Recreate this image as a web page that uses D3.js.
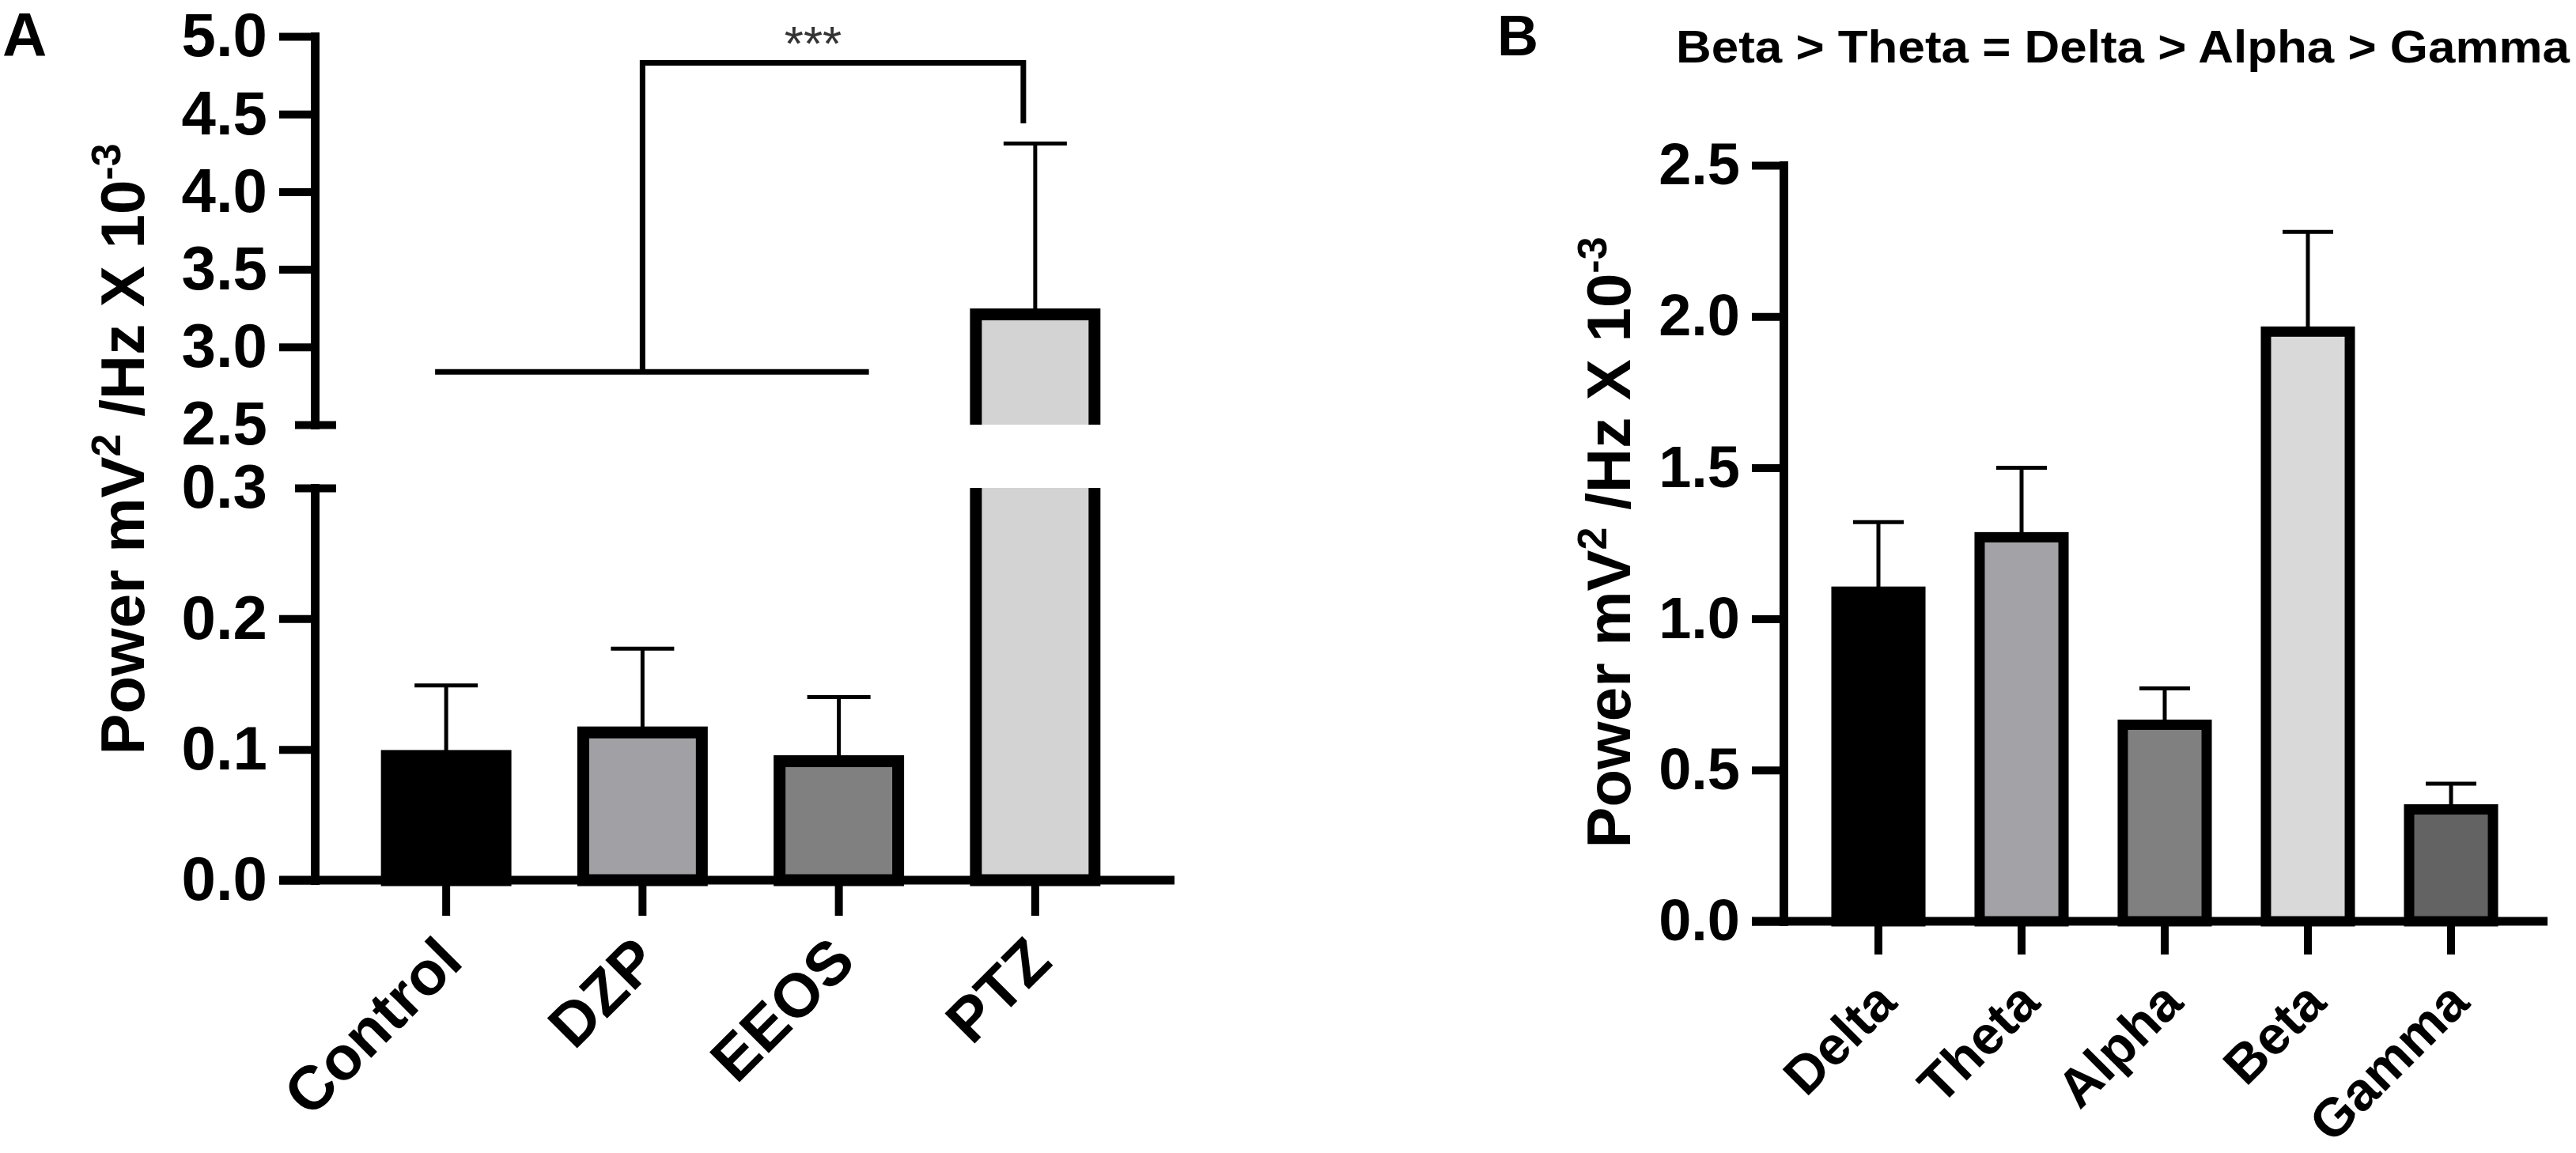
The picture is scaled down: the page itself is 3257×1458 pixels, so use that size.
<!DOCTYPE html>
<html>
<head>
<meta charset="utf-8">
<script src="https://cdn.jsdelivr.net/npm/d3@7"></script>
<style>
  body { margin: 0; background: #fff; }
  svg text { font-family: "Liberation Sans", Arial, sans-serif; font-weight: bold; fill: #000; }
</style>
</head>
<body>
<svg id="fig" width="3257" height="1458"></svg>
<script>
// panel A data
const groupsA = ['Control', 'DZP', 'EEOS', 'PTZ'];
const meanA = [0.095, 0.113, 0.091, 3.21];
const semA = [0.054, 0.064, 0.049, 1.10];
const coloursA = ['#000000', '#a1a1a5', '#808080', '#d3d3d3'];
const ticksHi = [2.5, 3.0, 3.5, 4.0, 4.5, 5.0];
const ticksLo = [0, 0.1, 0.2, 0.3];

// panel B data
const bandsB = ['Delta', 'Theta', 'Alpha', 'Beta', 'Gamma'];
const meanB = [1.09, 1.27, 0.65, 1.95, 0.37];
const semB = [0.23, 0.23, 0.12, 0.33, 0.085];
const coloursB = ['#000000', '#a3a3a7', '#808080', '#d9d9d9', '#636363'];
const ticksB = [0, 0.5, 1.0, 1.5, 2.0, 2.5];
const titleB = 'Beta > Theta = Delta > Alpha > Gamma';

const svg = d3.select('#fig');
const fmt = d3.format('.1f');

function styleAxis(g, size) {
  g.attr('font-size', size)
    .attr('font-family', null);
  g.select('.domain')
    .attr('stroke-width', 11)
    .attr('stroke-linecap', 'square');
  g.selectAll('.tick line').attr('stroke-width', 10);
}

function yLabel(x, y) {
  const t = svg.append('text')
    .attr('transform', `translate(${x},${y}) rotate(-90)`)
    .attr('text-anchor', 'middle')
    .attr('font-size', 78);
  t.append('tspan').text('Power mV');
  t.append('tspan').attr('dy', -30).attr('font-size', 52).text('2');
  t.append('tspan').attr('dy', 30).text(' /Hz X 10');
  t.append('tspan').attr('dy', -30).attr('font-size', 52).text('-3');
}

// ---------------- panel A ----------------
const xA = d3.scaleBand()
  .domain(groupsA)
  .range([440, 1433])
  .paddingInner(0.396)
  .paddingOuter(0.198);
const yHi = d3.scaleLinear().domain([2.5, 5]).range([537, 46]);
const yLo = d3.scaleLinear().domain([0, 0.3]).range([1113, 617]);
const yA = v => (v > 0.3 ? yHi(v) : yLo(v));
const dataA = groupsA.map((g, i) => ({ g, v: meanA[i], e: semA[i], c: coloursA[i] }));

const defs = svg.append('defs');
defs.append('clipPath').attr('id', 'clipHi')
  .append('rect').attr('x', 0).attr('y', 0).attr('width', 3257).attr('height', yHi(2.5));
defs.append('clipPath').attr('id', 'clipLo')
  .append('rect').attr('x', 0).attr('y', yLo(0.3)).attr('width', 3257).attr('height', 1458 - yLo(0.3));

// error bars (upper side only)
const errA = svg.append('g').attr('stroke', '#000').attr('stroke-width', 5);
dataA.forEach(d => {
  const cx = xA(d.g) + xA.bandwidth() / 2;
  errA.append('line').attr('x1', cx).attr('x2', cx).attr('y1', yA(d.v)).attr('y2', yA(d.v + d.e));
  errA.append('line').attr('x1', cx - 40).attr('x2', cx + 40).attr('y1', yA(d.v + d.e)).attr('y2', yA(d.v + d.e));
});

// bars, split over the broken axis
const barsLo = svg.append('g').attr('clip-path', 'url(#clipLo)');
barsLo.selectAll('rect')
  .data(dataA)
  .enter().append('rect')
  .attr('x', d => xA(d.g))
  .attr('width', xA.bandwidth())
  .attr('y', d => (d.v > 0.3 ? yLo(0.3) - 40 : yLo(d.v)))
  .attr('height', d => yLo(0) - (d.v > 0.3 ? yLo(0.3) - 40 : yLo(d.v)))
  .attr('fill', d => d.c)
  .attr('stroke', '#000')
  .attr('stroke-width', 15);

const barsHi = svg.append('g').attr('clip-path', 'url(#clipHi)');
barsHi.selectAll('rect')
  .data(dataA.filter(d => d.v > 2.5))
  .enter().append('rect')
  .attr('x', d => xA(d.g))
  .attr('width', xA.bandwidth())
  .attr('y', d => yHi(d.v))
  .attr('height', d => yHi(2.5) + 40 - yHi(d.v))
  .attr('fill', d => d.c)
  .attr('stroke', '#000')
  .attr('stroke-width', 15);

// y axes (two segments)
const gHi = svg.append('g').attr('transform', 'translate(398,0)')
  .call(d3.axisLeft(yHi).tickValues(ticksHi).tickSize(45).tickSizeOuter(0).tickPadding(15).tickFormat(fmt));
const gLo = svg.append('g').attr('transform', 'translate(398,0)')
  .call(d3.axisLeft(yLo).tickValues(ticksLo).tickSize(45).tickSizeOuter(0).tickPadding(15).tickFormat(fmt));
styleAxis(gHi, 78);
styleAxis(gLo, 78);
// break marks replace the ticks at 2.5 and 0.3
gHi.selectAll('.tick').filter(d => d === 2.5).select('line').attr('x1', -25).attr('x2', 27);
gLo.selectAll('.tick').filter(d => d === 0.3).select('line').attr('x1', -25).attr('x2', 27);

// x axis
svg.append('line')
  .attr('x1', 353).attr('x2', 1485)
  .attr('y1', yLo(0)).attr('y2', yLo(0))
  .attr('stroke', '#000').attr('stroke-width', 11);
const gxA = svg.append('g').attr('transform', `translate(0,${yLo(0)})`)
  .call(d3.axisBottom(xA).tickSize(45).tickSizeOuter(0));
gxA.select('.domain').remove();
styleAxis(gxA, 78);
gxA.selectAll('.tick text')
  .attr('x', 0).attr('y', 0).attr('dy', 0)
  .attr('text-anchor', 'end')
  .attr('transform', 'translate(24,106) rotate(-45)');

// significance bracket
const bracket = { low: 2.84, high: 4.83, drop: 4.44 };
const cxA = g => xA(g) + xA.bandwidth() / 2;
svg.append('path')
  .attr('fill', 'none').attr('stroke', '#000').attr('stroke-width', 7)
  .attr('d', `M${cxA('Control') - 14},${yHi(bracket.low)} H${cxA('EEOS') + 38}`);
svg.append('path')
  .attr('fill', 'none').attr('stroke', '#000').attr('stroke-width', 7)
  .attr('d', `M${cxA('DZP')},${yHi(bracket.low)} V${yHi(bracket.high)} H${cxA('PTZ') - 15} V${yHi(bracket.drop)}`);
svg.append('text')
  .attr('x', 1028).attr('y', 76)
  .attr('text-anchor', 'middle')
  .attr('font-size', 62)
  .style('font-weight', 'normal')
  .style('fill', '#333')
  .text('***');

yLabel(182, 568);

svg.append('text').attr('x', 3).attr('y', 71).attr('font-size', 78).text('A');

// ---------------- panel B ----------------
const xB = d3.scaleBand()
  .domain(bandsB)
  .range([2284.5, 3189.5])
  .paddingInner(0.414)
  .paddingOuter(0.207);
const yB = d3.scaleLinear().domain([0, 2.5]).range([1165, 209]);
const dataB = bandsB.map((b, i) => ({ b, v: meanB[i], e: semB[i], c: coloursB[i] }));

const errB = svg.append('g').attr('stroke', '#000').attr('stroke-width', 5);
dataB.forEach(d => {
  const cx = xB(d.b) + xB.bandwidth() / 2;
  errB.append('line').attr('x1', cx).attr('x2', cx).attr('y1', yB(d.v)).attr('y2', yB(d.v + d.e));
  errB.append('line').attr('x1', cx - 32).attr('x2', cx + 32).attr('y1', yB(d.v + d.e)).attr('y2', yB(d.v + d.e));
});

svg.append('g').selectAll('rect')
  .data(dataB)
  .enter().append('rect')
  .attr('x', d => xB(d.b))
  .attr('width', xB.bandwidth())
  .attr('y', d => yB(d.v))
  .attr('height', d => yB(0) - yB(d.v))
  .attr('fill', d => d.c)
  .attr('stroke', '#000')
  .attr('stroke-width', 13);

const gyB = svg.append('g').attr('transform', 'translate(2255,0)')
  .call(d3.axisLeft(yB).tickValues(ticksB).tickSize(40).tickSizeOuter(0).tickPadding(15).tickFormat(fmt));
styleAxis(gyB, 74);

svg.append('line')
  .attr('x1', 2215).attr('x2', 3221)
  .attr('y1', yB(0)).attr('y2', yB(0))
  .attr('stroke', '#000').attr('stroke-width', 11);
const gxB = svg.append('g').attr('transform', `translate(0,${yB(0)})`)
  .call(d3.axisBottom(xB).tickSize(42).tickSizeOuter(0));
gxB.select('.domain').remove();
styleAxis(gxB, 68);
gxB.selectAll('.tick text')
  .attr('x', 0).attr('y', 0).attr('dy', 0)
  .attr('text-anchor', 'end')
  .attr('transform', 'translate(26,106) rotate(-45)');

yLabel(2061, 686);

svg.append('text')
  .attr('x', 2684).attr('y', 79)
  .attr('text-anchor', 'middle')
  .attr('font-size', 58)
  .attr('textLength', 1130)
  .attr('lengthAdjust', 'spacingAndGlyphs')
  .text(titleB);

svg.append('text').attr('x', 1893).attr('y', 70).attr('font-size', 72).text('B');
</script>
</body>
</html>
